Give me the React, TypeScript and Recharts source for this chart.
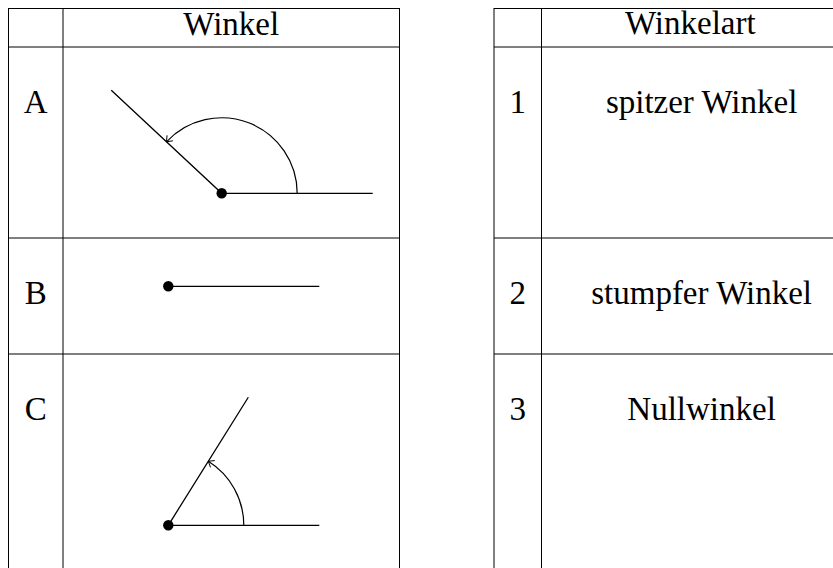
import React from "react";
import { ComposedChart, XAxis, YAxis, Scatter, ReferenceLine } from "recharts";

// ---- data ----
const headers = ["Winkel", "Winkelart"];
const rowLabels = ["A", "B", "C"];
const angleDegrees = [137, 0, 58];
const typeNumbers = ["1", "2", "3"];
const typeNames = ["spitzer Winkel", "stumpfer Winkel", "Nullwinkel"];

// ---- layout (page pixel coordinates) ----
const CHART_W = 833;
const CHART_H = 568;
const X_DOMAIN: [number, number] = [0, 833];
const Y_DOMAIN: [number, number] = [0, 568];
const ROW_TOPS = [47, 238, 354];
const BASELINE_OFFSET = 65.5;
const LEFT_COLS = [8.5, 63, 399.5];
const RIGHT_COLS = [494, 541.5];
const LEFT_SPAN: [number, number] = [8, 400];
const RIGHT_SPAN: [number, number] = [494, 833];
const V_SPAN: [number, number] = [8, 568];
const TOP_Y = 8.5;
const VERTICES = [
  { x: 221.7, y: 193.3 },
  { x: 168.3, y: 286.3 },
  { x: 168.3, y: 525.3 },
];
const RAY_LEN = 151;
const ARC_R = 75.5;
const DOT_R = 5.2;
const FONT = "'Liberation Serif', 'Times New Roman', serif";
const FONT_SIZE = 33;
const INK = "#000";

const labelCol = (LEFT_COLS[0] + LEFT_COLS[1]) / 2;
const figCol = (LEFT_COLS[1] + LEFT_COLS[2]) / 2;
const numCol = (RIGHT_COLS[0] + RIGHT_COLS[1]) / 2;
const headerRightCol = 690.3;
const nameCol = 701.6;

const textItems = [
  { x: figCol, y: 35, text: headers[0] },
  { x: headerRightCol, y: 33.5, text: headers[1] },
  ...rowLabels.map((t, i) => ({ x: labelCol, y: ROW_TOPS[i] + BASELINE_OFFSET, text: t })),
  ...typeNumbers.map((t, i) => ({ x: numCol, y: ROW_TOPS[i] + BASELINE_OFFSET, text: t })),
  ...typeNames.map((t, i) => ({ x: nameCol, y: ROW_TOPS[i] + BASELINE_OFFSET, text: t })),
];

const rad = (d: number) => (d * Math.PI) / 180;

const rayData = angleDegrees.map((a, i) => {
  const v = VERTICES[i];
  return [
    { x: v.x + RAY_LEN * Math.cos(rad(a)), y: v.y - RAY_LEN * Math.sin(rad(a)) },
    { x: v.x, y: v.y },
    { x: v.x + RAY_LEN, y: v.y },
  ];
});

const vertexData = angleDegrees.map((a, i) => ({ x: VERTICES[i].x, y: VERTICES[i].y, angle: a }));

const TextShape = (props: any) => {
  const { cx, cy, payload } = props;
  if (cx == null || cy == null) return <g />;
  return (
    <text x={cx} y={cy} textAnchor="middle" fontFamily={FONT} fontSize={FONT_SIZE} fill={INK}>
      {payload.text}
    </text>
  );
};

const VertexShape = (props: any) => {
  const { cx, cy, payload } = props;
  if (cx == null || cy == null) return <g />;
  const a = payload.angle;
  let arc: React.ReactNode = null;
  if (a > 0) {
    const t = rad(a);
    const ex = cx + ARC_R * Math.cos(t);
    const ey = cy - ARC_R * Math.sin(t);
    const large = a > 180 ? 1 : 0;
    const d = `M ${cx + ARC_R} ${cy} A ${ARC_R} ${ARC_R} 0 ${large} 0 ${ex} ${ey}`;
    const bx = Math.sin(t);
    const by = Math.cos(t);
    const arm = 6.5;
    const spread = rad(38);
    const rot = (x: number, y: number, s: number) => ({
      x: x * Math.cos(s) - y * Math.sin(s),
      y: x * Math.sin(s) + y * Math.cos(s),
    });
    const p1 = rot(bx, by, spread);
    const p2 = rot(bx, by, -spread);
    const arrow = `M ${ex + arm * p1.x} ${ey + arm * p1.y} L ${ex} ${ey} L ${ex + arm * p2.x} ${ey + arm * p2.y}`;
    arc = (
      <g>
        <path d={d} fill="none" stroke={INK} strokeWidth={1.2} />
        <path d={arrow} fill="none" stroke={INK} strokeWidth={1} />
      </g>
    );
  }
  return (
    <g>
      {arc}
      <circle cx={cx} cy={cy} r={DOT_R} fill={INK} />
    </g>
  );
};

const Empty = () => <g />;

export default function App() {
  return (
    <div
      style={{
        position: "absolute",
        left: 0,
        top: 0,
        width: CHART_W,
        height: CHART_H,
        overflow: "hidden",
        background: "#fff",
      }}
    >
      <ComposedChart
        width={CHART_W}
        height={CHART_H}
        margin={{ top: 0, right: 0, bottom: 0, left: 0 }}
        style={{ display: "block" }}
      >
        <XAxis type="number" dataKey="x" domain={X_DOMAIN} allowDataOverflow hide />
        <YAxis type="number" dataKey="y" domain={Y_DOMAIN} allowDataOverflow reversed hide />

        {[...LEFT_COLS, ...RIGHT_COLS].map((x) => (
          <ReferenceLine
            key={`v${x}`}
            segment={[{ x, y: V_SPAN[0] }, { x, y: V_SPAN[1] }]}
            stroke={INK}
            strokeWidth={1}
            ifOverflow="extendDomain"
          />
        ))}
        {[TOP_Y, ...ROW_TOPS].map((y) => (
          <ReferenceLine
            key={`lh${y}`}
            segment={[{ x: LEFT_SPAN[0], y }, { x: LEFT_SPAN[1], y }]}
            stroke={INK}
            strokeWidth={1}
            ifOverflow="extendDomain"
          />
        ))}
        {[TOP_Y, ...ROW_TOPS].map((y) => (
          <ReferenceLine
            key={`rh${y}`}
            segment={[{ x: RIGHT_SPAN[0], y }, { x: RIGHT_SPAN[1], y }]}
            stroke={INK}
            strokeWidth={1}
            ifOverflow="extendDomain"
          />
        ))}

        {rayData.map((pts, i) => (
          <Scatter
            key={`ray${i}`}
            data={pts}
            line={{ stroke: INK, strokeWidth: 1.3 }}
            shape={<Empty />}
            isAnimationActive={false}
          />
        ))}

        <Scatter data={vertexData} shape={<VertexShape />} isAnimationActive={false} />
        <Scatter data={textItems} shape={<TextShape />} isAnimationActive={false} />
      </ComposedChart>
    </div>
  );
}
